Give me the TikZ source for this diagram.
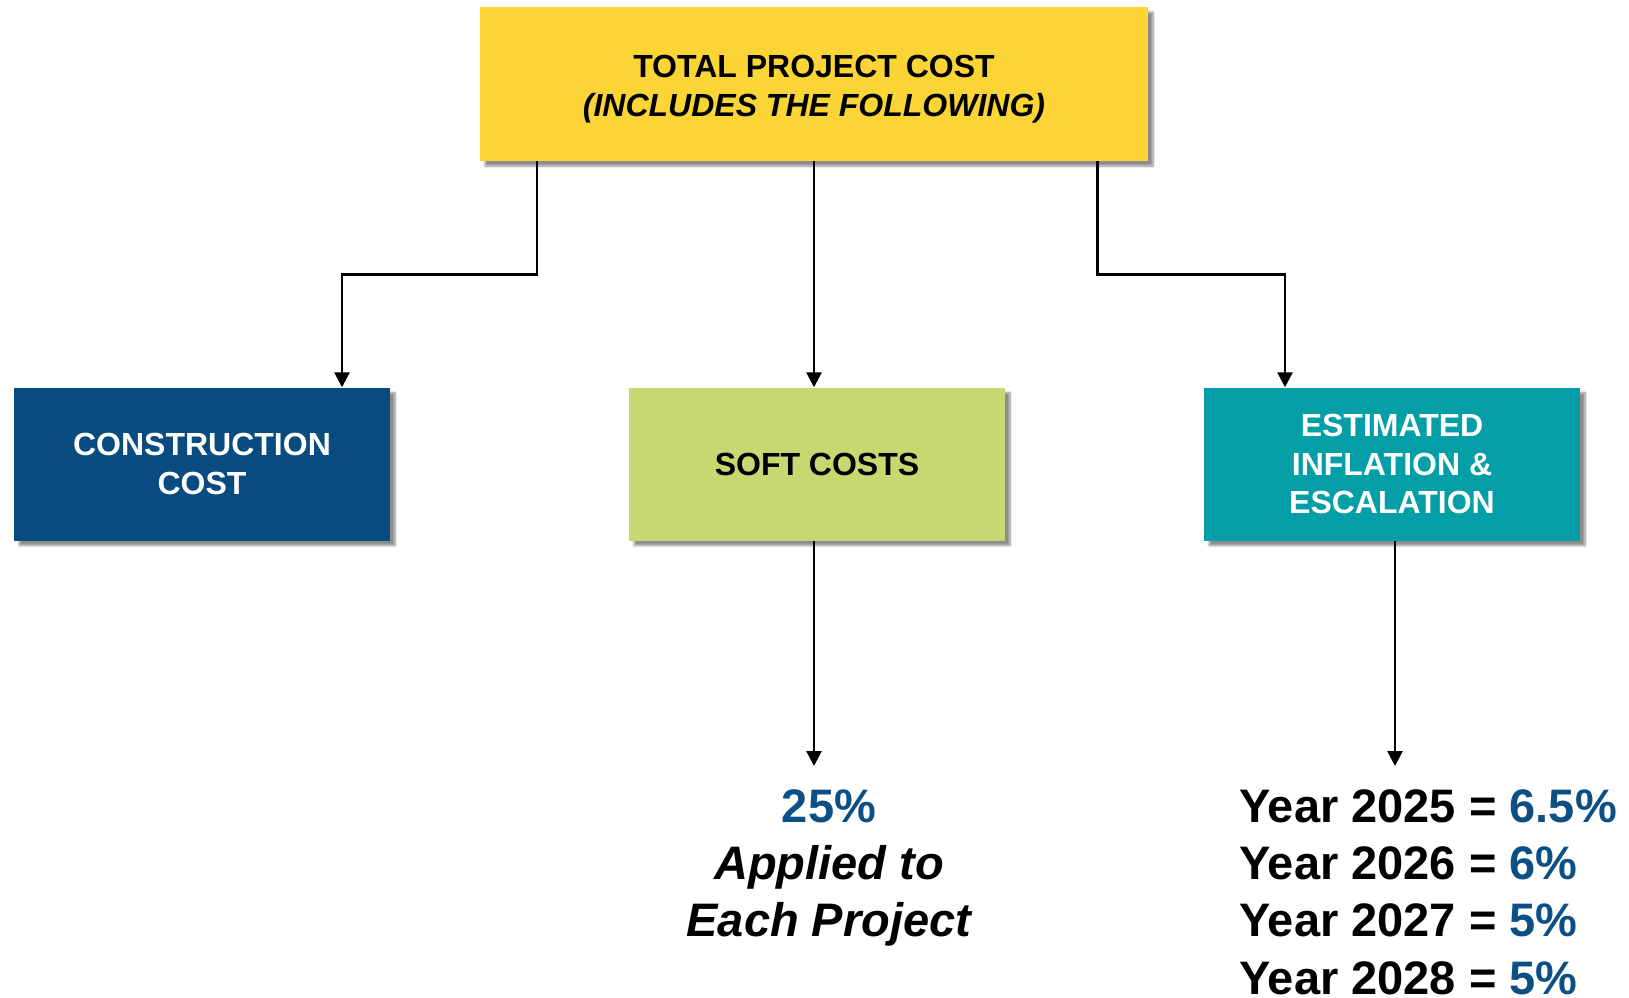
\documentclass[tikz,border=0pt]{standalone}
\usepackage{fontspec}
\setmainfont{Liberation Sans}
\usetikzlibrary{arrows.meta,shadows.blur}
\definecolor{cyel}{HTML}{FBD535}
\definecolor{cblue}{HTML}{074B7F}
\definecolor{cgreen}{HTML}{C5D871}
\definecolor{cteal}{HTML}{039EA6}
\definecolor{ctxt}{HTML}{0B4F85}
\begin{document}
\begin{tikzpicture}[x=1pt,y=-1pt,
  boxtext/.style={inner sep=0pt, align=center, font=\fontsize{32}{38.5}\selectfont\bfseries},
  box/.style={boxtext, minimum width=376pt, minimum height=153pt,
    blur shadow={shadow xshift=5pt, shadow yshift=-5pt, shadow blur steps=8, shadow opacity=45}},
  arr/.style={line width=2.6pt, -{Triangle[length=15pt,width=15pt]}},
  big/.style={inner sep=0pt, font=\fontsize{47}{57.4}\selectfont\bfseries}
]
\useasboundingbox (0,0) rectangle (1629,997);
\node[box, fill=cyel, minimum width=668pt, minimum height=154pt] (top) at (814,84) {};
\node[boxtext] (toptext) at ([yshift=-5pt]top.center)
  {TOTAL PROJECT COST\\{\itshape (INCLUDES THE FOLLOWING)}};
\node[box, fill=cblue, text=white] (cons) at (202,464) {CONSTRUCTION\\COST};
\node[box, fill=cgreen] (soft) at (817,464) {SOFT COSTS};
\node[box, fill=cteal, text=white] (est) at (1392,464) {ESTIMATED\\INFLATION \&\\ESCALATION};

\draw[arr] ([xshift=57pt]top.south west) -- ++(0,113) -| ([xshift=140pt]cons.north);
\draw[arr] (top.south) -- (top.south |- soft.north);
\draw[arr] ([xshift=-51pt]top.south east) -- ++(0,113) -| ([xshift=-107pt]est.north);

\coordinate (spTop) at (814,766);
\coordinate (yrTop) at (1395,766);
\draw[arr] (soft.south -| spTop) -- (spTop);
\draw[arr] (est.south -| yrTop) -- (yrTop);

\node[big, anchor=north, align=center] (sp) at (829,789)
  {\textcolor{ctxt}{25\%}\\{\itshape Applied to}\\{\itshape Each Project}};
\node[big, anchor=north west, align=left] (yr) at (1239,789)
  {Year 2025 = \textcolor{ctxt}{6.5\%}\\Year 2026 = \textcolor{ctxt}{6\%}\\Year 2027 = \textcolor{ctxt}{5\%}\\Year 2028 = \textcolor{ctxt}{5\%}};
\end{tikzpicture}
\end{document}
